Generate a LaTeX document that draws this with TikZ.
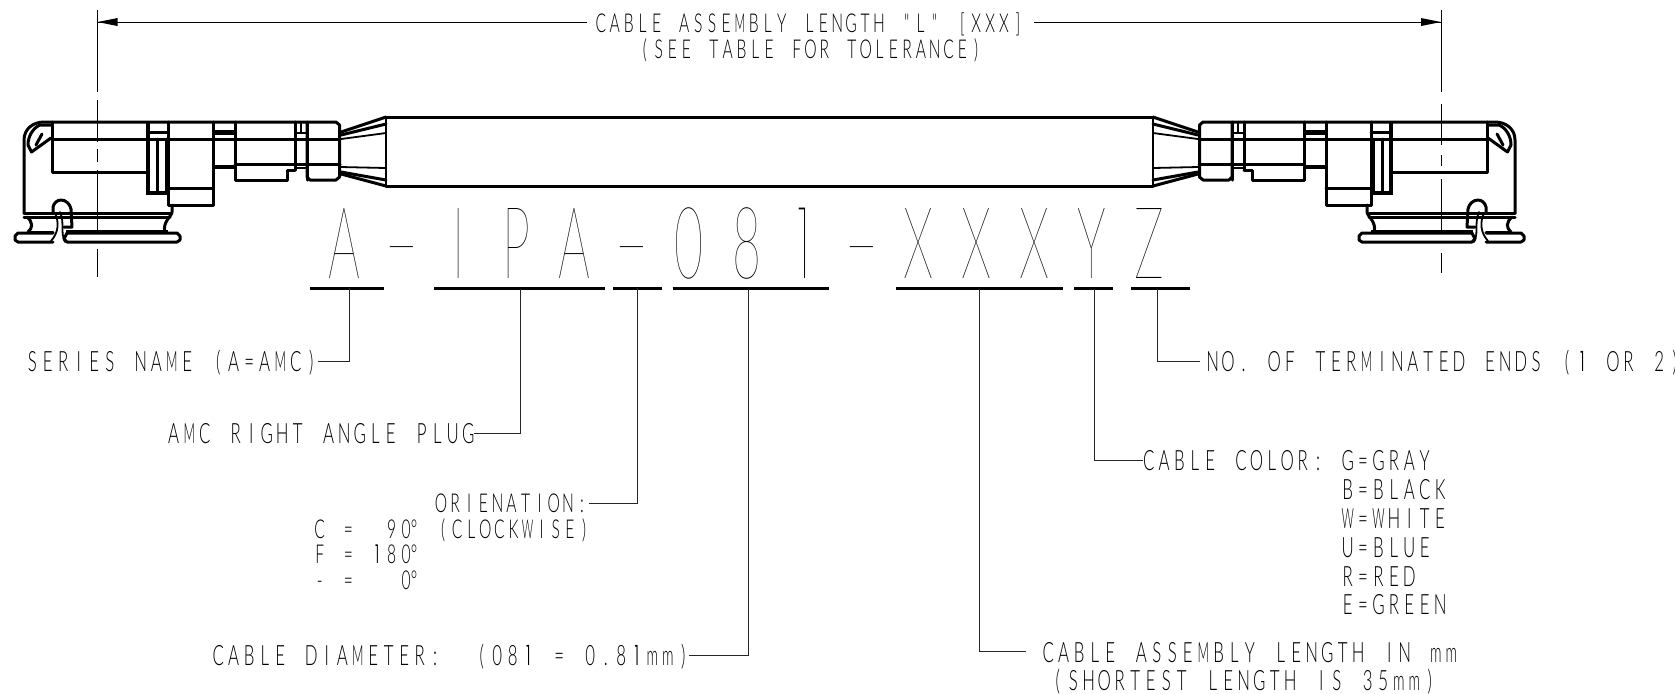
\documentclass[tikz,border=0pt]{standalone}
\usepackage{fontspec}
\usepackage{graphicx}
\newfontfamily\cadfont[FakeStretch=0.6]{Lato Light}
\newfontfamily\cadbigfont[FakeStretch=0.5]{Lato Hairline}
\newfontfamily\onesmallfont[FakeStretch=0.55]{Poppins Light}
\newfontfamily\onebigfont[FakeStretch=0.5]{Poppins Thin}
\makeatletter
\newcommand\mono[2]{\@tfor\@t:=#2\do{\makebox[#1][c]{\@t}}}
\makeatother
\newdimen\pxu \pxu=0.5pt
\newcommand\dg{\hspace*{-13\pxu}°}
\newcommand\nW{\scalebox{.72}[1]{W}}
\newcommand\nM{\scalebox{.75}[1]{M}}
\newcommand\nm{\scalebox{.85}[1]{m}}
\newcommand\none{{\onesmallfont 1}}
\newcommand\bigone{{\onebigfont 1}}
\newcommand\bigdash{\raisebox{2\pxu}{\scalebox{2.1}[1]{-}}}
\tikzset{
  x=0.5pt,y=-0.5pt,
  heavy/.style={line width=1.5pt,line join=round,line cap=round},
  heavier/.style={line width=2.4pt},
  medium/.style={line width=0.9pt,line cap=round},
  thin line/.style={line width=0.5pt},
  leader/.style={line width=0.5pt,draw=black!85},
  under/.style={line width=1.5pt},
  lab/.style={inner sep=0pt,outer sep=0pt,anchor=base west,font=\cadfont\fontsize{14}{14}\selectfont},
  labs/.style={inner sep=0pt,outer sep=0pt,anchor=base west,font=\cadfont\fontsize{13}{13}\selectfont},
  big/.style={inner sep=0pt,outer sep=0pt,anchor=base west,font=\cadbigfont\fontsize{50}{50}\selectfont},
  dimtip/.style={fill=black,draw=none}
}
\newcommand\cadconn{%
  \draw[heavy] (24,213) -- (24,140) .. controls (24,129) and (33,122) .. (44,122) -- (336,122) -- (339.5,125) -- (339.5,177) -- (336,180) -- (310,180) -- (307,177) -- (307,122);
  \draw[heavy] (52,122) -- (52,172) -- (147,172);
  \draw[heavy] (52,139) -- (340,139);
  \draw[heavier] (148,122) -- (148,193) -- (168,193);
  \draw[heavy] (157,139) -- (157,193);
  \draw[heavy] (166,139) -- (166,193);
  \draw[heavy] (148,132) -- (168,132);
  \draw[heavy] (168,122) -- (168,205) -- (213,205) -- (213,122);
  \draw[heavy] (168,188) -- (213,188);
  \draw[heavier] (213,132.5) -- (235,132.5);
  \draw[heavier] (213,167) -- (235,167);
  \draw[heavy] (235,122) -- (235,180) -- (287,180) -- (287,170) -- (295,170);
  \draw[heavy] (235,164) -- (340,164);
  \draw[heavy] (295,122) -- (295,170);
  \draw[heavy] (307,122) -- (307,180);
  \draw[medium] (295,133) -- (307,133);
  \draw[medium] (295,168) -- (307,168);
  \draw[medium] (301,122) -- (301,133);
  % cable strain relief
  \draw[heavy] (341,132) -- (386,117);
  \draw[heavy] (341,135) -- (386,124);
  \draw[medium] (341,139) -- (386,133);
  \draw[medium] (341,167) -- (386,168);
  \draw[heavy] (341,172) -- (386,180);
  \draw[heavy] (341,174) -- (386,186);
  % latch hook
  \draw[heavy] (51,125) -- (40,125) .. controls (33,128) and (28,136) .. (28,145) -- (31.5,152) -- (51,138);
  \draw[heavy] (36,145) -- (42,134);
  % flange
  \draw[heavy] (24,213) -- (170,213);
  \draw[heavy] (24,217) -- (170,217);
  \draw[heavy] (27,217) .. controls (33,222) and (33,228) .. (28,232);
  \draw[heavy] (172,205) -- (172,212) .. controls (172,216) and (162,222) .. (165,232);
  \draw[heavy] (30,232) -- (53,232);
  \draw[heavier] (66,232) -- (168,232);
  \draw[heavy] (53,233) -- (18,233) -- (15,236) -- (15,240) -- (18,242) -- (53,242);
  \draw[heavy] (67,233) -- (177,233) -- (180,236) -- (180,240) -- (177,242) -- (67,242) -- (64,239) -- (67,233);
  % clip
  \draw[heavy] (53,213) -- (53,207) .. controls (54,203) and (57,200) .. (61,200) .. controls (66,200) and (70,204) .. (71,209) -- (72,227) -- (64,227);
  \draw[medium] (55,213) .. controls (59,222) and (59,232) .. (51,241);
  \draw[medium] (60,212) .. controls (65,224) and (60,232) .. (65,242);
}
\begin{document}
\begin{tikzpicture}
\useasboundingbox (0,0) rectangle (1675,693);
\clip (0,0) rectangle (1675,693);
\fill[white] (0,0) rectangle (1675,693);

% connectors at both ends
\cadconn
\begin{scope}[xshift=769.5pt,xscale=-1]
  \cadconn
\end{scope}

% cable
\draw[heavy] (386,117) -- (1153,117);
\draw[heavy] (386,186) -- (1153,186);
\draw[medium] (386,117) -- (386,186);
\draw[medium] (1153,117) -- (1153,186);

% centre / extension lines
\draw[thin line] (97.5,10) -- (97.5,92) (97.5,100) -- (97.5,142) (97.5,149) -- (97.5,162) (97.5,170) -- (97.5,233) (97.5,249) -- (97.5,277);
\draw[thin line] (1441,10) -- (1441,92) (1441,104) -- (1441,145) (1441,155) -- (1441,166) (1441,179) -- (1441,233) (1441,253) -- (1441,273);

% overall dimension
\node[labs] (dim1) at (594,32) {\mono{13.9\pxu}{CABLE~ASSE{\nM}BLY~LENGTH~"L"~[XXX]}};
\node[labs] (dim2) at (638,58) {\mono{13.8\pxu}{(SEE~TABLE~FOR~TOLERANCE)}};
\coordinate (dl) at (97.5,22);
\coordinate (dr) at (1441,22);
\draw[thin line] (dl) -- (587,22);
\draw[thin line] (1034,22) -- (dr);
\fill[dimtip] (dl) -- (117.5,18) -- (117.5,26) -- cycle;
\fill[dimtip] (dr) -- (1421,18) -- (1421,26) -- cycle;

% part number
\node[big] (pn) at (315.25,278) {\mono{57.5\pxu}{A{\bigdash}IPA{\bigdash}08{\bigone}{\bigdash}XXXYZ}};

% underlines
\coordinate (u1) at (349,288); \coordinate (u2) at (520.5,288.5); \coordinate (u3) at (637,288);
\coordinate (u4) at (748,288.5); \coordinate (u5) at (979,288.5); \coordinate (u6) at (1094.5,288.5); \coordinate (u7) at (1157.5,288.5);
\draw[under] (310,288) -- (384,288);
\draw[under] (434,288.5) -- (605,288.5);
\draw[under] (613,288) -- (662,288);
\draw[under] (672.5,288.5) -- (829,288.5);
\draw[under] (896,288.5) -- (1063,288.5);
\draw[under] (1074,288.5) -- (1113,288.5);
\draw[under] (1131,288.5) -- (1190,288.5);

% labels
\node[lab] (l1) at (24.5,371) {\mono{15.5\pxu}{SERIES~NA{\nM}E~(A=A{\nM}C)}};
\node[lab] (l2) at (166,443) {\mono{15.5\pxu}{A{\nM}C~RIGHT~ANGLE~PLUG}};
\node[labs] (l3) at (434,512) {\mono{14.1\pxu}{ORIENATION:}};
\node[labs] (l3b) at (436,538) {\mono{14.1\pxu}{(CLOCK{\nW}ISE)}};
\node[labs] (d1) at (312.5,538) {\mono{14.4\pxu}{C~=~~90{\dg}}};
\node[labs] (d2) at (312.5,563) {\mono{14.4\pxu}{F~=~{\none}80{\dg}}};
\node[labs] (d3) at (312.5,589) {\mono{14.4\pxu}{-~=~~~0{\dg}}};
\node[lab] (l4) at (210.5,665) {\mono{15.5\pxu}{CABLE~DIA{\nM}ETER:~~(08{\none}~=~0.8{\none}{\nm}{\nm})}};
\node[lab] (r1) at (1205,371) {\mono{15.4\pxu}{NO.~OF~TER{\nM}INATED~ENDS~({\none}~OR~2)}};
\node[lab] (r2) at (1141,470) {\mono{15.4\pxu}{CABLE~COLOR:}};
\node[lab] (c1) at (1340,470) {\mono{15.4\pxu}{G=GRAY}};
\node[lab] (c2) at (1340,499) {\mono{15.4\pxu}{B=BLACK}};
\node[lab] (c3) at (1340,528) {\mono{15.4\pxu}{{\nW}={\nW}HITE}};
\node[lab] (c4) at (1340,557) {\mono{15.4\pxu}{U=BLUE}};
\node[lab] (c5) at (1340,586) {\mono{15.4\pxu}{R=RED}};
\node[lab] (c6) at (1340,614) {\mono{15.4\pxu}{E=GREEN}};
\node[lab] (r3) at (1040.5,662) {\mono{15.5\pxu}{CABLE~ASSE{\nM}BLY~LENGTH~IN~{\nm}{\nm}}};
\node[lab] (r4) at (1050,690) {\mono{15.5\pxu}{(SHORTEST~LENGTH~IS~35{\nm}{\nm})}};

% leaders
\coordinate (e1) at (318,361); \coordinate (e2) at (474,433); \coordinate (e3) at (589,503);
\coordinate (e4) at (689,655); \coordinate (e5) at (1200,361); \coordinate (e6) at (1143,460); \coordinate (e7) at (1026,651);
\draw[leader] (e1) -| (u1);
\draw[leader] (e2) -| (u2);
\draw[leader] (e3) -| (u3);
\draw[leader] (e4) -| (u4);
\draw[leader] (e5) -| (u7);
\draw[leader] (e6) -| (u6);
\draw[leader] (e7) -| (u5);
\end{tikzpicture}
\end{document}
